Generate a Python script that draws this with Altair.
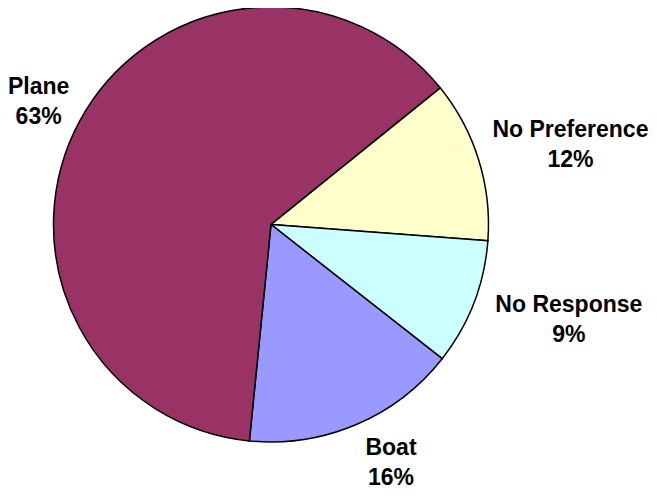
import math
import altair as alt
import pandas as pd

# Data
categories = ["No Preference", "No Response", "Boat", "Plane"]
shares = [12.0, 9.4, 16.0, 62.6]
percent_labels = ["12%", "9%", "16%", "63%"]
colors = ["#FFFFCC", "#CCFFFF", "#9999FF", "#993366"]

# Layout of the outside labels (polar, relative to the pie centre)
label_angle_deg = [72.5, 105.1, 151.8, 300.6]
label_radius_px = [314, 308.5, 254, 270]

START = math.radians(51.06)

df = pd.DataFrame({
    "category": categories,
    "share": shares,
    "order": list(range(len(categories))),
    "label": [f"{c}\n{p}" for c, p in zip(categories, percent_labels)],
    "lang": label_angle_deg,
    "lrad": label_radius_px,
})

pie = alt.Chart(df).mark_arc(
    outerRadius=217.5, stroke="black", strokeWidth=1.5, strokeJoin="miter"
).encode(
    theta=alt.Theta("share:Q", stack=True,
                    scale=alt.Scale(range=[START, START + 2 * math.pi])),
    color=alt.Color("category:N",
                    scale=alt.Scale(domain=categories, range=colors),
                    legend=None),
    order=alt.Order("order:Q"),
)

labels = alt.Chart(df).mark_text(
    font="Arial, Liberation Sans",
    fontSize=23,
    fontWeight="bold",
    color="black",
    align="center",
    baseline="middle",
    lineBreak="\n",
    lineHeight=30,
).encode(
    theta=alt.Theta("lang:Q", stack=False,
                    scale=alt.Scale(domain=[0, 360], range=[0, 2 * math.pi])),
    radius=alt.Radius("lrad:Q", scale=None),
    text="label:N",
)

chart = alt.layer(pie, labels).resolve_scale(
    theta="independent", radius="independent"
).properties(
    width=526,
    height=433,
    padding={"left": 0, "top": 0, "right": 115, "bottom": 51},
    autosize=alt.AutoSizeParams(type="none"),
    background="white",
).configure_view(stroke="transparent")

chart.save("out.html", embed_options={"renderer": "svg", "actions": False})
